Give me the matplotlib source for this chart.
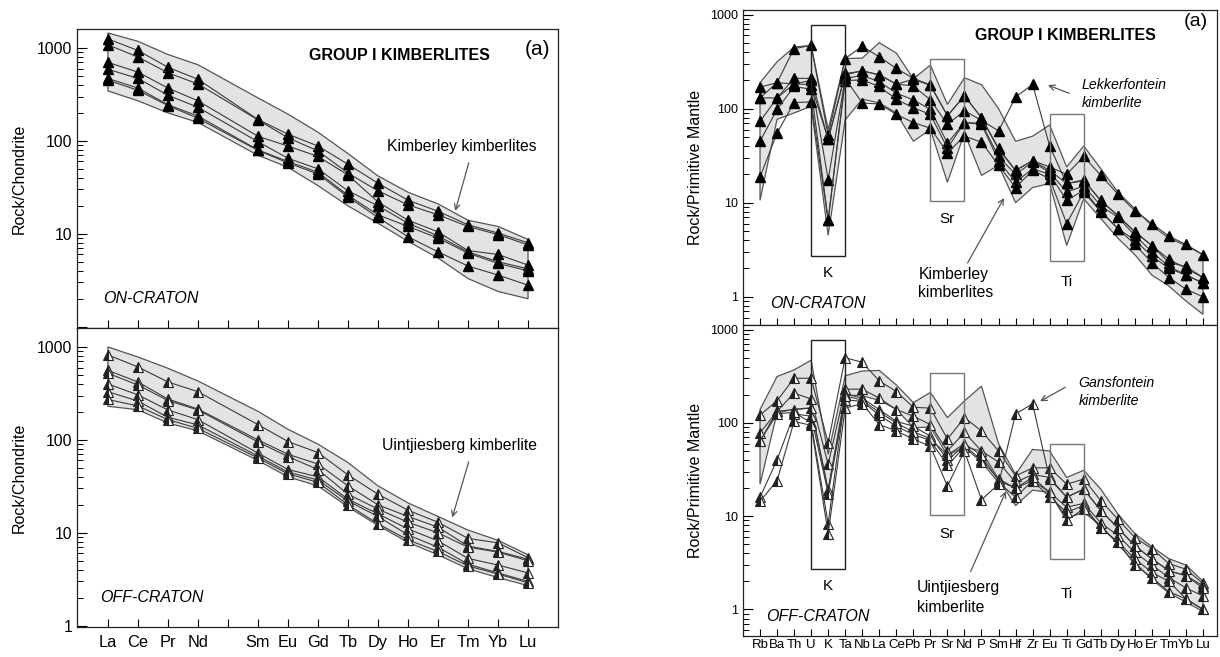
import numpy as np
import matplotlib
matplotlib.use('Agg')
import matplotlib.pyplot as plt
from matplotlib.patches import Rectangle
from matplotlib.ticker import LogLocator, NullFormatter, FixedLocator

plt.rcParams['font.family'] = ['Liberation Sans', 'DejaVu Sans']

# ---- chondrite normalised REE (left panels) ----
ree_labels = ['La', 'Ce', 'Pr', 'Nd', '', 'Sm', 'Eu', 'Gd', 'Tb', 'Dy', 'Ho', 'Er', 'Tm', 'Yb', 'Lu']
ree_pos = [0, 1, 2, 3, 5, 6, 7, 8, 9, 10, 11, 12, 13, 14]   # Pm is skipped

# on-craton, Kimberley kimberlites
on_ree = [
    [1250, 940, 620, 460, 170, 118, 88, 56, 35, 23, 17.5, 12.5, 10.2, 8.0],
    [1080, 800, 540, 410, 168, 108, 78, 45, 29, 20.5, 16, 12, 9.8, 7.6],
    [700, 550, 370, 270, 112, 88, 68, 43, 22, 14, 10.5, 6.6, 6.0, 4.6],
    [590, 470, 310, 230, 98, 65, 50, 29, 20, 13, 9.5, 6.4, 5.0, 4.2],
    [470, 370, 245, 185, 80, 60, 46, 26, 16, 12, 9.0, 6.2, 4.8, 4.0],
    [450, 350, 240, 175, 79, 58, 44, 25, 15, 9.3, 6.4, 4.5, 3.6, 2.8],
]
on_ree_top = [1450, 1180, 850, 660, 290, 194, 124, 73, 42, 28, 21, 14, 12, 8.7]
on_ree_bot = [345, 270, 200, 158, 70, 52, 33, 20, 13, 8.3, 5.5, 3.3, 2.4, 2.0]

# off-craton, Uintjiesberg kimberlite
off_ree = [
    [820, 610, 420, 330, 146, 96, 73, 42, 26, 17.5, 13, 8.7, 7.8, 5.4],
    [560, 420, 275, 215, 100, 70, 55, 32, 20, 15, 11.5, 7.2, 6.3, 5.2],
    [520, 390, 265, 210, 95, 66, 48, 26, 18, 13, 10, 7.0, 6.2, 5.0],
    [400, 305, 210, 165, 72, 48, 40, 23, 16, 11, 8.2, 5.3, 4.5, 3.7],
    [330, 262, 175, 145, 67, 45, 37, 22, 15, 9.5, 7.0, 4.6, 3.7, 3.0],
    [272, 232, 165, 133, 64, 43, 35, 20, 12.5, 8.4, 6.3, 4.4, 3.6, 2.9],
]
off_ree_top = [1000, 780, 590, 430, 203, 130, 90, 57, 32, 21, 15, 10.7, 8.3, 5.8]
off_ree_bot = [230, 211, 152, 125, 60, 40, 32, 19, 12, 7.9, 5.8, 4.1, 3.3, 2.7]

# ---- primitive mantle normalised (right panels) ----
pm_labels = ['Rb', 'Ba', 'Th', 'U', 'K', 'Ta', 'Nb', 'La', 'Ce', 'Pb', 'Pr', 'Sr', 'Nd', 'P',
             'Sm', 'Hf', 'Zr', 'Eu', 'Ti', 'Gd', 'Tb', 'Dy', 'Ho', 'Er', 'Tm', 'Yb', 'Lu']

on_pm = [
    [169, 189, 435, 470, 52, 341, 460, 355, 268, 210, 179, 84, 137, 80, 37, 22, 28, 24, 20, 31, 19.5, 12.4, 8.2, 6.0, 4.4, 3.6, 2.8],
    [130, 130, 210, 210, 47, 228, 254, 228, 183, 174, 124, 68, 95, 75, 58, 133, 181, 40, 16, 17, 10.6, 7.3, 4.9, 3.5, 2.3, 2.1, 1.6],
    [73, 130, 183, 200, 17.6, 210, 225, 194, 146, 124, 98, 43, 71, 70, 31, 20, 27, 21, 13, 15, 9.3, 7.0, 4.5, 3.0, 2.1, 1.7, 1.4],
    [45, 98, 172, 161, 6.5, 199, 202, 172, 126, 102, 87, 38, 71, 68, 28, 16.5, 23, 20, 10.6, 13.5, 8.2, 5.3, 4.0, 2.7, 2.0, 1.7, 1.4],
    [18.7, 55, 116, 118, 6.5, 210, 115, 112, 87, 71, 62, 34, 51, 44, 25, 14.5, 22, 18, 6.0, 13, 8.0, 5.3, 3.6, 2.3, 1.6, 1.2, 1.0],
    [130, 189, 183, 180, 47, 237, 250, 230, 182, 205, 177, 84, 137, 80, 38, 22, 28, 22, 16, 17.5, 10.5, 7.3, 4.9, 3.5, 2.5, 2.0, 1.6],
]
on_pm_top = [189, 315, 452, 470, 60, 341, 345, 503, 390, 208, 290, 111, 213, 180, 100, 45, 51, 67, 24, 40, 23, 13, 8.6, 5.7, 4.2, 3.5, 2.8]
on_pm_bot = [10.6, 77, 90, 106, 4.5, 76, 126, 115, 90, 45, 60, 16.5, 55, 19.5, 25, 10, 14.5, 16, 3.5, 11, 6.8, 4.2, 2.8, 1.7, 1.3, 0.9, 0.65]

off_pm = [
    [121, 173, 301, 301, 61, 500, 446, 282, 217, 147, 144, 67, 114, 82, 50, 27, 33, 33, 22, 25, 14.7, 9.3, 5.9, 4.5, 3.1, 2.7, 1.9],
    [78, 133, 209, 180, 36, 230, 230, 184, 139, 118, 96, 50, 79, 50, 38, 23, 28, 26, 16, 19.5, 11.5, 7.5, 4.8, 3.5, 2.6, 2.3, 1.8],
    [64, 133, 139, 144, 19, 204, 184, 139, 104, 92, 72, 40, 57, 40, 25, 20, 24, 18, 12.5, 13.7, 8.5, 6.2, 4.1, 3.0, 2.2, 1.7, 1.4],
    [16, 40, 125, 118, 17.5, 177, 170, 121, 92, 75, 65, 35, 55, 38, 23, 16, 24, 16, 11, 13, 7.5, 5.3, 3.5, 2.5, 2.0, 1.3, 1.0],
    [64, 125, 130, 100, 8.3, 195, 175, 130, 100, 80, 68, 45, 60, 45, 24, 20, 26, 18, 9, 12, 7.5, 5.3, 3.0, 2.2, 1.55, 1.3, 1.0],
    [14.5, 24, 104, 94, 6.5, 144, 161, 96, 82, 67, 56, 21, 50, 15, 22, 125, 160, 25, 16, 19.5, 11.5, 7.5, 4.8, 3.5, 2.6, 2.3, 1.7],
]
off_pm_top = [139, 314, 370, 470, 46, 320, 360, 365, 255, 165, 212, 114, 172, 248, 60, 28, 52, 50, 26, 31, 19.5, 10.6, 6.5, 4.7, 3.5, 3.0, 2.0]
off_pm_bot = [22, 128, 140, 145, 19, 200, 195, 175, 140, 89, 90, 45, 55, 50, 25, 13, 19, 18, 9.5, 11, 8, 5, 3.2, 2.1, 1.5, 1.2, 0.95]


fig = plt.figure(figsize=(12.2, 6.57), dpi=100)
ax1 = fig.add_axes([0.0631, 0.5008, 0.3943, 0.4551])
ax2 = fig.add_axes([0.0631, 0.0457, 0.3943, 0.4551])
ax3 = fig.add_axes([0.609, 0.5053, 0.3885, 0.4795])
ax4 = fig.add_axes([0.609, 0.0320, 0.3885, 0.4733])

line_c = '#3a3a3a'
env_fc = '#e3e3e3'
env_ec = '#555555'


def draw(ax, x, lines, top, bot, filled):
    x = np.asarray(x)
    ax.fill(np.concatenate([x, x[::-1]]), np.concatenate([top, bot[::-1]]),
            facecolor=env_fc, edgecolor=env_ec, linewidth=0.9, zorder=1)
    for vals in lines:
        if filled:
            ax.plot(x, vals, color=line_c, lw=0.8, marker='^', ms=6.8,
                    mfc='black', mec='black', zorder=3)
        else:
            ax.plot(x, vals, color=line_c, lw=0.8, marker='^', ms=6.8,
                    fillstyle='left', mfc='#222222', mfcalt='white',
                    mec='#222222', mew=0.8, zorder=3)


def style(ax, ylim, xlim, ticks, labels, fs_y, fs_x, show_x):
    ax.set_yscale('log')
    ax.set_ylim(*ylim)
    ax.set_xlim(*xlim)
    ax.yaxis.set_major_locator(FixedLocator([1, 10, 100, 1000]))
    ax.yaxis.set_minor_locator(LogLocator(base=10, subs=np.arange(2, 10)))
    ax.yaxis.set_minor_formatter(NullFormatter())
    ax.set_yticklabels(['1', '10', '100', '1000'])
    ax.tick_params(axis='y', which='major', direction='in', length=7, width=0.8, labelsize=fs_y)
    ax.tick_params(axis='y', which='minor', direction='in', length=4, width=0.7)
    ax.set_xticks(ticks)
    ax.tick_params(axis='x', direction='in', length=6, width=0.8, labelsize=fs_x, pad=6)
    if show_x:
        ax.set_xticklabels(labels)
    else:
        ax.set_xticklabels([])
    for s in ax.spines.values():
        s.set_linewidth(0.9)
        s.set_color('#222222')


# left panels
draw(ax1, ree_pos, on_ree, np.array(on_ree_top), np.array(on_ree_bot), True)
draw(ax2, ree_pos, off_ree, np.array(off_ree_top), np.array(off_ree_bot), False)
for ax, show in [(ax1, False), (ax2, True)]:
    style(ax, (0.97, 1600), (-1.03, 15.0), range(15), ree_labels, 11.3, 11.8, show)
    ax.set_ylabel('Rock/Chondrite', fontsize=11.5, labelpad=7)
ax1.set_yticklabels(['', '10', '100', '1000'])

ax1.text(9.73, 830, 'GROUP I KIMBERLITES', fontsize=11.5, fontweight='bold', ha='center', va='center')
ax1.text(14.33, 960, '(a)', fontsize=15, ha='center', va='center')
ax1.text(-0.15, 2.0, 'ON-CRATON', fontsize=11.5, style='italic', ha='left', va='center')
ax1.text(9.3, 88, 'Kimberley kimberlites', fontsize=11.3, ha='left', va='center')
ax1.annotate('', xy=(11.55, 16.5), xytext=(12.05, 62),
             arrowprops=dict(arrowstyle='->', color='#555555', lw=0.9))

ax2.text(-0.27, 2.0, 'OFF-CRATON', fontsize=11.5, style='italic', ha='left', va='center')
ax2.text(9.13, 86, 'Uintjiesberg kimberlite', fontsize=11.3, ha='left', va='center')
ax2.annotate('', xy=(11.45, 13.7), xytext=(12.05, 62),
             arrowprops=dict(arrowstyle='->', color='#555555', lw=0.9))

# right panels
pm_x = np.arange(len(pm_labels))
draw(ax3, pm_x, on_pm, np.array(on_pm_top), np.array(on_pm_bot), True)
draw(ax4, pm_x, off_pm, np.array(off_pm_top), np.array(off_pm_bot), False)
for ax, show in [(ax3, False), (ax4, True)]:
    style(ax, (0.5, 1120), (-1.0, 26.82), pm_x, pm_labels, 9, 9.5, show)
    ax.set_ylabel('Rock/Primitive Mantle', fontsize=11.5, labelpad=5)
    ax.tick_params(axis='x', length=5, pad=2)
ax4.set_ylim(0.52, 1120)

# element boxes
for ax, boxes in [(ax3, [(3, 5, 2.7, 770, '#222222', 'K', 1.8),
                         (10, 12, 10.5, 334, '#777777', 'Sr', 6.7),
                         (17, 19, 2.4, 87, '#777777', 'Ti', 1.45)]),
                  (ax4, [(3, 5, 2.7, 782, '#222222', 'K', 1.8),
                         (10, 12, 10.4, 345, '#777777', 'Sr', 6.5),
                         (17, 19, 3.5, 59, '#777777', 'Ti', 1.45)])]:
    for x0, x1, y0, y1, ec, lab, ly in boxes:
        ax.add_patch(Rectangle((x0, y0), x1 - x0, y1 - y0, fill=False,
                               edgecolor=ec, lw=1.0, zorder=4))
        ax.text((x0 + x1) / 2, ly, lab, fontsize=11, ha='center', va='center')

ax3.text(17.95, 600, 'GROUP I KIMBERLITES', fontsize=11.5, fontweight='bold', ha='center', va='center')
ax3.text(25.6, 840, '(a)', fontsize=14, ha='center', va='center')
ax3.text(0.6, 0.84, 'ON-CRATON', fontsize=11.5, style='italic', ha='left', va='center')
ax3.text(18.9, 177, 'Lekkerfontein', fontsize=10.2, style='italic', ha='left', va='center')
ax3.text(18.9, 114, 'kimberlite', fontsize=10.2, style='italic', ha='left', va='center')
ax3.annotate('', xy=(16.75, 182), xytext=(18.3, 142),
             arrowprops=dict(arrowstyle='->', color='#555555', lw=0.9))
ax3.text(9.3, 1.73, 'Kimberley', fontsize=11.3, ha='left', va='center')
ax3.text(9.3, 1.12, 'kimberlites', fontsize=11.3, ha='left', va='center')
ax3.annotate('', xy=(14.4, 11.9), xytext=(12.1, 2.15),
             arrowprops=dict(arrowstyle='->', color='#555555', lw=0.9))

ax4.text(0.35, 0.85, 'OFF-CRATON', fontsize=11.5, style='italic', ha='left', va='center')
ax4.text(18.7, 270, 'Gansfontein', fontsize=10.2, style='italic', ha='left', va='center')
ax4.text(18.7, 172, 'kimberlite', fontsize=10.2, style='italic', ha='left', va='center')
ax4.annotate('', xy=(16.3, 165), xytext=(18.06, 249),
             arrowprops=dict(arrowstyle='->', color='#555555', lw=0.9))
ax4.text(9.2, 1.74, 'Uintjiesberg', fontsize=11.3, ha='left', va='center')
ax4.text(9.2, 1.05, 'kimberlite', fontsize=11.3, ha='left', va='center')
ax4.annotate('', xy=(14.5, 19.7), xytext=(12.3, 2.4),
             arrowprops=dict(arrowstyle='->', color='#555555', lw=0.9))

fig.savefig('out.png', dpi=100)
